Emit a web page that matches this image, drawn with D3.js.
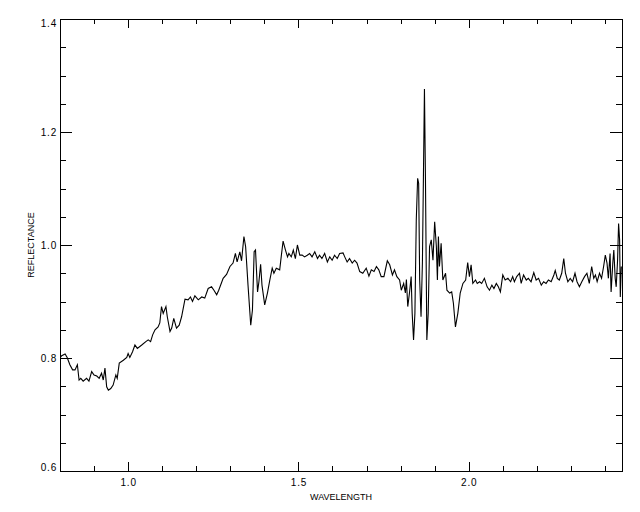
<!DOCTYPE html>
<html>
<head>
<meta charset="utf-8">
<script src="https://cdn.jsdelivr.net/npm/d3@7"></script>
<style>
  html, body { margin: 0; padding: 0; background: #fff; }
  svg { display: block; }
  text { font-family: "Liberation Sans", Arial, sans-serif; fill: #000; }
</style>
</head>
<body>
<svg id="chart" width="640" height="512"></svg>
<script>
const wavelength = [
  0.800,0.805,0.815,0.821,0.829,0.837,0.844,0.851,0.856,0.861,0.868,0.878,0.885,0.893,0.900,0.908,0.915,0.922,0.927,0.932,
  0.937,0.942,0.949,0.956,0.964,0.968,0.974,0.986,0.996,1.000,1.005,1.013,1.020,1.027,1.040,1.052,1.059,1.066,1.072,1.079,
  1.088,1.093,1.098,1.103,1.111,1.115,1.123,1.128,1.134,1.142,1.150,1.157,1.167,1.176,1.183,1.189,1.196,
  1.206,1.216,1.225,1.235,1.245,1.252,1.260,1.266,1.279,1.289,1.299,1.308,1.315,1.320,1.328,1.333,1.340,1.345,1.352,1.360,
  1.365,1.370,1.374,1.380,1.384,1.389,1.393,1.401,1.409,1.416,1.423,1.428,1.435,1.445,1.450,1.455,1.462,1.468,1.472,1.479,
  1.485,1.491,1.497,1.504,1.511,1.518,1.526,1.533,1.540,1.548,1.556,1.562,1.569,1.577,1.585,1.592,1.599,1.606,1.614,1.621,
  1.631,1.636,1.643,1.650,1.658,1.665,1.672,1.680,1.689,1.699,1.707,1.714,1.722,1.729,1.736,1.743,1.751,1.761,1.768,1.776,
  1.782,1.789,1.797,1.802,1.809,1.814,1.817,1.821,1.826,1.831,1.834,1.838,1.842,1.846,1.850,1.853,1.856,1.860,1.864,1.867,
  1.870,1.873,1.877,1.881,1.885,1.890,1.895,1.900,1.905,1.908,1.911,1.914,1.919,1.924,1.932,1.936,1.944,1.950,1.955,1.961,
  1.968,1.975,1.983,1.991,1.997,2.002,2.007,2.012,2.020,
  2.025,2.032,2.038,2.046,2.054,2.061,2.068,2.074,2.081,2.087,2.093,2.100,2.107,2.115,2.123,2.129,2.134,2.141,2.149,2.154,
  2.161,2.169,2.175,2.183,2.191,2.198,2.205,2.213,2.220,2.227,2.234,2.242,2.250,2.254,2.260,2.266,2.273,2.279,2.284,2.291,
  2.298,2.305,2.312,2.318,2.325,2.332,2.340,2.347,2.354,2.361,2.367,2.372,2.377,2.384,2.390,2.396,2.401,2.406,2.410,2.415,
  2.418,2.423,2.426,2.430,2.433,2.437,2.440,2.443,2.445,2.448
];
const reflectance = [
  0.800,0.804,0.807,0.801,0.788,0.779,0.779,0.788,0.761,0.764,0.759,0.764,0.759,0.776,0.770,0.768,0.764,0.773,0.761,0.782,
  0.749,0.743,0.746,0.752,0.770,0.764,0.791,0.796,0.801,0.808,0.801,0.811,0.823,0.817,0.823,0.829,0.832,0.829,0.841,0.850,
  0.855,0.862,0.891,0.879,0.891,0.873,0.847,0.853,0.870,0.853,0.858,0.873,0.904,0.903,0.908,0.900,0.910,
  0.903,0.908,0.906,0.923,0.926,0.920,0.912,0.920,0.941,0.948,0.962,0.968,0.985,0.970,0.988,0.972,1.015,0.997,0.929,0.858,
  0.885,0.988,0.991,0.917,0.935,0.966,0.929,0.894,0.915,0.938,0.959,0.950,0.959,0.956,0.982,1.007,0.991,0.979,0.985,0.979,
  0.991,0.976,1.000,0.982,0.982,0.979,0.982,0.985,0.979,0.988,0.976,0.982,0.976,0.985,0.970,0.979,0.973,0.982,0.976,0.985,
  0.986,0.979,0.970,0.976,0.968,0.973,0.968,0.953,0.950,0.959,0.945,0.956,0.953,0.962,0.956,0.944,0.944,0.972,0.965,0.947,
  0.956,0.944,0.938,0.920,0.932,0.915,0.939,0.891,0.915,0.944,0.879,0.832,0.879,1.044,1.118,1.109,0.938,0.873,0.968,1.121,
  1.276,1.115,0.832,0.879,0.997,1.009,0.973,1.041,0.997,0.938,1.015,0.962,1.003,0.938,0.950,0.920,0.915,0.917,0.897,0.855,
  0.879,0.915,0.932,0.938,0.969,0.944,0.965,0.932,0.938,
  0.932,0.935,0.932,0.941,0.926,0.920,0.929,0.923,0.932,0.926,0.917,0.947,0.938,0.941,0.935,0.944,0.935,0.944,0.950,0.932,
  0.947,0.938,0.941,0.935,0.951,0.938,0.941,0.929,0.935,0.932,0.938,0.935,0.947,0.955,0.941,0.938,0.950,0.976,0.950,0.935,
  0.941,0.935,0.950,0.935,0.926,0.935,0.944,0.950,0.932,0.962,0.941,0.947,0.935,0.950,0.941,0.962,0.982,0.968,0.941,0.985,
  0.917,0.968,0.991,0.941,0.926,0.973,1.038,1.009,0.908,0.962
];
const xMajorTicks = [1.0, 1.5, 2.0];
const xMinorTicks = [0.9, 1.1, 1.2, 1.3, 1.4, 1.6, 1.7, 1.8, 1.9, 2.1, 2.2, 2.3, 2.4];
const yMajorTicks = [0.6, 0.8, 1.0, 1.2, 1.4];
const yMinorTicks = [0.65, 0.7, 0.75, 0.85, 0.9, 0.95, 1.05, 1.1, 1.15, 1.25, 1.3, 1.35];
const xTitle = "WAVELENGTH";
const yTitle = "REFLECTANCE";

const L = 60, R = 622, T = 19, B = 471;
const svg = d3.select("#chart");
const x = d3.scaleLinear().domain([0.8, 2.45]).range([L, R]);
const y = d3.scaleLinear().domain([0.6, 1.4]).range([B, T]);
const fmt = d3.format(".1f");

svg.append("defs").append("clipPath").attr("id", "clip")
  .append("rect").attr("x", L).attr("y", T).attr("width", R - L).attr("height", B - T);

function axisGroup(axis, tx, ty) {
  const g = svg.append("g").attr("transform", `translate(${tx},${ty})`).call(axis);
  g.select(".domain").remove();
  g.selectAll("line").attr("stroke", "#000").attr("shape-rendering", "crispEdges");
  g.selectAll("text").attr("font-size", 10).attr("letter-spacing", "0.8px")
    .attr("font-family", "'Liberation Sans', Arial, sans-serif").attr("fill", "#000");
  return g;
}

// bottom
axisGroup(d3.axisBottom(x).tickValues(xMajorTicks).tickSize(-9).tickPadding(8).tickFormat(fmt), 0, B);
axisGroup(d3.axisBottom(x).tickValues(xMinorTicks).tickSize(-5).tickFormat(""), 0, B);
// top
axisGroup(d3.axisTop(x).tickValues(xMajorTicks).tickSize(-9).tickFormat(""), 0, T);
axisGroup(d3.axisTop(x).tickValues(xMinorTicks).tickSize(-5).tickFormat(""), 0, T);
// left
const gl = axisGroup(d3.axisLeft(y).tickValues(yMajorTicks).tickSize(-12).tickPadding(3).tickFormat(fmt), L, 0);
gl.selectAll("text").attr("dy", d => d === 1.4 ? "0.75em" : (d === 0.6 ? "-0.05em" : "0.32em"));
axisGroup(d3.axisLeft(y).tickValues(yMinorTicks).tickSize(-6).tickFormat(""), L, 0);
// right
axisGroup(d3.axisRight(y).tickValues(yMajorTicks).tickSize(-12).tickFormat(""), R, 0);
axisGroup(d3.axisRight(y).tickValues(yMinorTicks).tickSize(-6).tickFormat(""), R, 0);

// frame
svg.append("rect").attr("x", L).attr("y", T).attr("width", R - L).attr("height", B - T)
  .attr("fill", "none").attr("stroke", "#000").attr("stroke-width", 1).attr("shape-rendering", "crispEdges");

// spectrum
const data = wavelength.map((w, i) => ({ w, r: reflectance[i] }));
svg.append("path").datum(data)
  .attr("clip-path", "url(#clip)")
  .attr("fill", "none").attr("stroke", "#000").attr("stroke-width", 1.1)
  .attr("d", d3.line().x(d => x(d.w)).y(d => y(d.r)));

// titles
svg.append("text").attr("x", (L + R) / 2).attr("y", 500).attr("text-anchor", "middle")
  .attr("font-size", 9).text(xTitle);
svg.append("text").attr("transform", `translate(34,${(T + B) / 2}) rotate(-90)`)
  .attr("text-anchor", "middle").attr("font-size", 9).text(yTitle);
</script>
</body>
</html>
